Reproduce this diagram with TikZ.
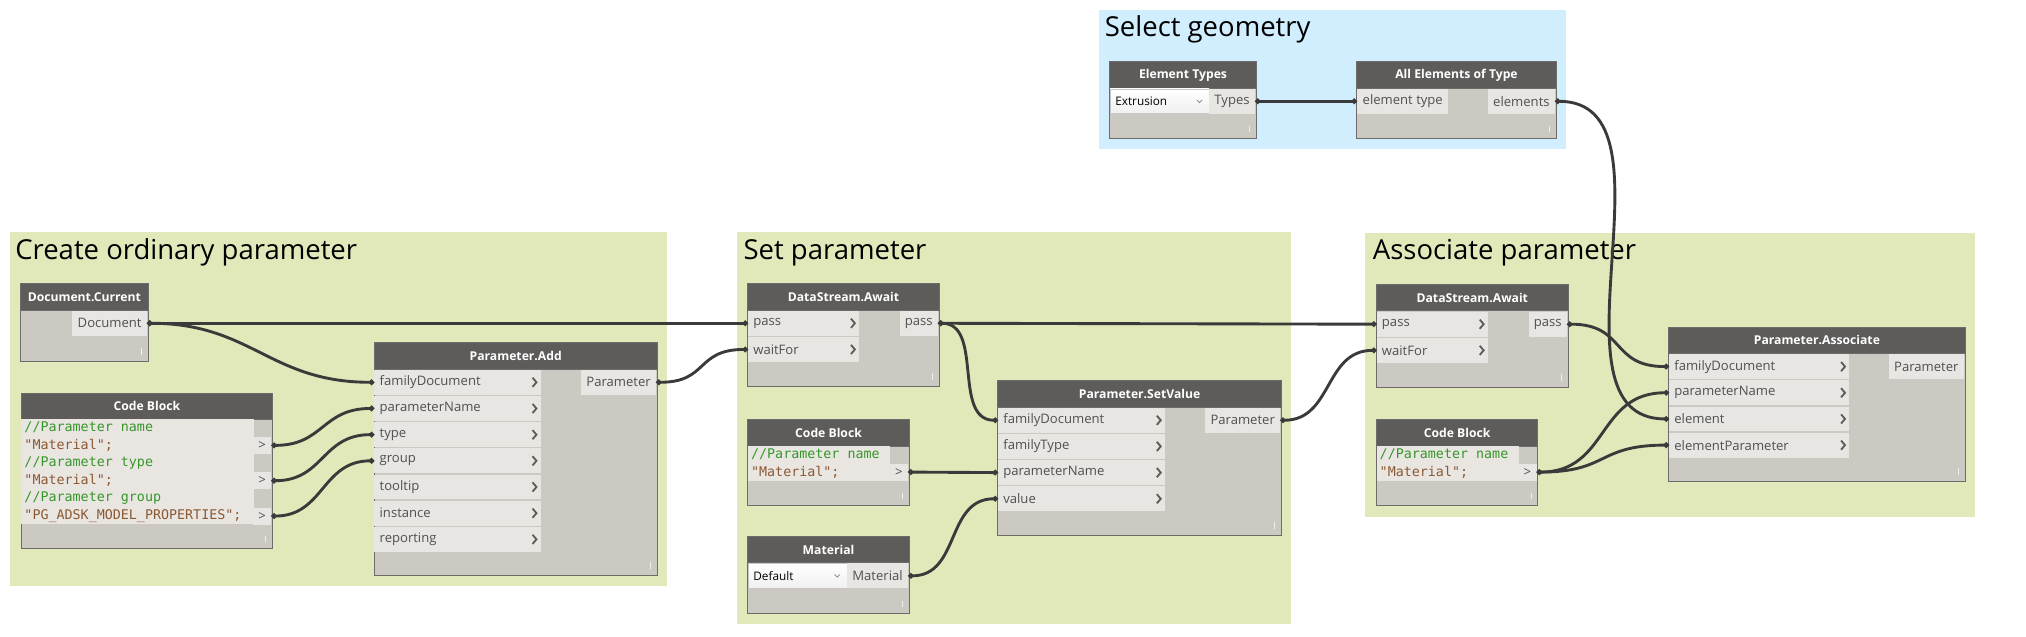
\documentclass[tikz,border=0pt]{standalone}
\usepackage{fontspec}
\setmainfont{Open Sans}
\setmonofont{DejaVu Sans Mono}
\usetikzlibrary{arrows.meta, calc}

\definecolor{grpgreen}{RGB}{225,233,187}
\definecolor{grpblue}{RGB}{208,238,253}
\definecolor{headcol}{RGB}{94,92,90}
\definecolor{bodycol}{RGB}{204,200,194}
\definecolor{portcol}{RGB}{232,230,227}
\definecolor{codebg}{RGB}{233,230,226}
\definecolor{bordercol}{RGB}{110,108,106}
\definecolor{wirecol}{RGB}{58,58,58}
\definecolor{labelcol}{RGB}{80,80,80}
\definecolor{cmtcol}{RGB}{54,150,42}
\definecolor{strcol}{RGB}{140,88,50}

\newcommand{\portfont}{\fontsize{10}{11}\selectfont}

% node with header and resize grip: name, x, y, width, height, title
\newcommand{\dynnode}[6]{%
  \node[nbody, minimum width=#4, minimum height=#5] (#1) at (#2,#3) {};
  \node[nhead, minimum width=#4] (#1-t) at (#1.north west) {#6};
  \draw[grip] ($(#1.south east)+(-5.5,-5.5)$) -- ++(0,-5);
}
% input port with chevron: name, x, y, text width, label
\newcommand{\inport}[5]{%
  \node[inport, text width=#4pt] (#1) at (#2,#3) {#5};
  \draw[chev] ($(#1.east)+(-6.5,-3.5)$) -- ++(3,3.5) -- ++(-3,3.5);
}

\begin{document}
\begin{tikzpicture}[x=1pt, y=-1pt,
    grp/.style={anchor=north west, inner sep=0, draw=none},
    gtitle/.style={anchor=base west, inner sep=0, font=\fontsize{21}{24}\selectfont},
    nbody/.style={draw=bordercol, fill=bodycol, anchor=north west, inner sep=0, line width=0.8pt},
    nhead/.style={draw=bordercol, fill=headcol, anchor=north west, inner sep=0, minimum height=20, text=white, font=\fontsize{9.3}{10}\selectfont\bfseries, line width=0.8pt},
    inport/.style={fill=portcol, anchor=west, inner xsep=4, inner ysep=0, minimum height=19, align=left, text=labelcol, font=\portfont},
    outport/.style={fill=portcol, anchor=east, inner xsep=4, inner ysep=0, minimum height=19, text=labelcol, font=\portfont},
    chev/.style={draw=headcol, line width=1.4pt},
    grip/.style={draw=white!70!bodycol, line width=1pt},
    wire/.style={draw=wirecol, line width=2.2pt, {Circle[length=4pt]}-{Circle[length=4pt]}},
    codeline/.style={anchor=west, inner sep=0, font=\ttfamily\fontsize{10.2}{12}\selectfont},
    codebox/.style={fill=codebg, anchor=north west, inner sep=0},
    cport/.style={fill=portcol, anchor=east, inner sep=0, minimum width=14, minimum height=13, text=labelcol, font=\portfont},
    drop/.style={draw=gray!45, top color=white, bottom color=gray!12, anchor=west, inner xsep=4, inner ysep=0, minimum height=19, align=left, font=\fontsize{9}{10}\selectfont},
    vmark/.style={draw=gray, line width=0.6pt}
]
\fill[white] (0,0) rectangle (1548,486);
\useasboundingbox (0,0) rectangle (1548,486);

% groups
\node[grp, fill=grpblue, minimum width=357, minimum height=106] (g-sel) at (839.4,7.6) {};
\node[gtitle] (g-sel-t) at (844,28) {Select geometry};
\node[grp, fill=grpgreen, minimum width=502.4, minimum height=270.5] (g-add) at (7.1,177) {};
\node[gtitle] (g-add-t) at (11.5,198.5) {Create ordinary parameter};
\node[grp, fill=grpgreen, minimum width=423.7, minimum height=299.3] (g-set) at (562.8,177) {};
\node[gtitle] (g-set-t) at (568,198.5) {Set parameter};
\node[grp, fill=grpgreen, minimum width=466, minimum height=217] (g-ass) at (1043.1,177.8) {};
\node[gtitle] (g-ass-t) at (1048.8,198.5) {Associate parameter};

% select geometry
\dynnode{et}{847.6}{46.9}{111.8}{58.8}{Element Types}
\node[drop, text width=67.6pt] (et-dd) at (848,77.4) {Extrusion};
\draw[vmark] ($(et-dd.east)+(-9.5,-1)$) -- ++(2,2) -- ++(2,-2);
\node[outport] (et-o) at (959,77.4) {Types};

\dynnode{aet}{1036.3}{46.9}{152.3}{58.8}{All Elements of Type}
\node[fill=portcol, anchor=west, inner xsep=3, inner ysep=0, minimum height=19, minimum width=69.8, text=labelcol, font=\portfont] (aet-in) at (1036.7,77.4) {element type};
\node[outport] (aet-o) at (1188.2,77.4) {elements};

% create ordinary parameter
\dynnode{doc}{15.3}{216.5}{97.5}{59.1}{Document.Current}
\node[outport] (doc-o) at (112.4,247) {Document};

\dynnode{cb1}{15.8}{300}{192}{119}{Code Block}
\node[codebox, minimum width=178, minimum height=79.7] (cb1-txt) at (16.2,320.2) {};
\node[codeline, text=cmtcol] (cb1-l1) at (18.5,326.8) {//Parameter name};
\node[codeline, text=strcol] (cb1-l2) at (18.5,340.3) {"Material";};
\node[codeline, text=cmtcol] (cb1-l3) at (18.5,353.8) {//Parameter type};
\node[codeline, text=strcol] (cb1-l4) at (18.5,367.3) {"Material";};
\node[codeline, text=cmtcol] (cb1-l5) at (18.5,380.8) {//Parameter group};
\node[codeline, text=strcol] (cb1-l6) at (18.5,394.3) {"PG\_ADSK\_MODEL\_PROPERTIES";};
\node[cport] (cb1-o1) at (207.4,340.3) {>};
\node[cport] (cb1-o2) at (207.4,367.3) {>};
\node[cport] (cb1-o3) at (207.4,394.3) {>};

\dynnode{pa}{285.5}{261.6}{216.3}{177.7}{Parameter.Add}
\inport{pa-fd}{285.9}{292.1}{119.1}{familyDocument}
\inport{pa-pn}{285.9}{312.1}{119.1}{parameterName}
\inport{pa-ty}{285.9}{332.1}{119.1}{type}
\inport{pa-gr}{285.9}{352.1}{119.1}{group}
\inport{pa-tt}{285.9}{372.1}{119.1}{tooltip}
\inport{pa-in}{285.9}{392.1}{119.1}{instance}
\inport{pa-re}{285.9}{412.1}{119.1}{reporting}
\node[outport] (pa-o) at (501.4,292.1) {Parameter};

% set parameter
\dynnode{da1}{571}{216.5}{146.2}{78.5}{DataStream.Await}
\inport{da1-pa}{571.4}{247}{76.9}{pass}
\inport{da1-wf}{571.4}{267}{76.9}{waitFor}
\node[outport] (da1-o) at (716.8,247) {pass};

\dynnode{cb2}{571}{320.4}{123.3}{65.7}{Code Block}
\node[codebox, minimum width=108.5, minimum height=26.7] (cb2-txt) at (571.4,340.8) {};
\node[codeline, text=cmtcol] (cb2-l1) at (573.7,347.2) {//Parameter name};
\node[codeline, text=strcol] (cb2-l2) at (573.7,360.7) {"Material";};
\node[cport] (cb2-o) at (693.9,360.7) {>};

\dynnode{mat}{571}{409.5}{123.3}{59.1}{Material}
\node[drop, text width=67.4pt] (mat-dd) at (571.4,440) {Default};
\draw[vmark] ($(mat-dd.east)+(-9.5,-1)$) -- ++(2,2) -- ++(2,-2);
\node[outport] (mat-o) at (693.9,440) {Material};

\dynnode{sv}{762}{290.6}{216.7}{118.2}{Parameter.SetValue}
\inport{sv-fd}{762.4}{321.1}{119.6}{familyDocument}
\inport{sv-ft}{762.4}{341.1}{119.6}{familyType}
\inport{sv-pn}{762.4}{361.1}{119.6}{parameterName}
\inport{sv-va}{762.4}{381.1}{119.6}{value}
\node[outport] (sv-o) at (978.3,321.1) {Parameter};

% associate parameter
\dynnode{da2}{1051.3}{217.2}{146.5}{78.5}{DataStream.Await}
\inport{da2-pa}{1051.7}{247.7}{77}{pass}
\inport{da2-wf}{1051.7}{267.7}{77}{waitFor}
\node[outport] (da2-o) at (1197.4,247.7) {pass};

\dynnode{cb3}{1051.3}{320.4}{123.3}{65.7}{Code Block}
\node[codebox, minimum width=108.7, minimum height=26.7] (cb3-txt) at (1051.7,340.8) {};
\node[codeline, text=cmtcol] (cb3-l1) at (1054,347.2) {//Parameter name};
\node[codeline, text=strcol] (cb3-l2) at (1054,360.7) {"Material";};
\node[cport] (cb3-o) at (1174.2,360.7) {>};

\dynnode{as}{1274.7}{249.6}{226.3}{117.9}{Parameter.Associate}
\inport{as-fd}{1275.1}{280.1}{129.7}{familyDocument}
\inport{as-pn}{1275.1}{300.1}{129.7}{parameterName}
\inport{as-el}{1275.1}{320.1}{129.7}{element}
\inport{as-ep}{1275.1}{340.1}{129.7}{elementParameter}
\node[outport] (as-o) at (1500.6,280.1) {Parameter};

% wires
\draw[wire] (et-o.east) -- (aet-in.west);
\draw[wire] (aet-o.east) .. controls +(100,0) and +(-100,0) .. (as-el.west);
\draw[wire] (doc-o.east) .. controls +(80,0) and +(-80,0) .. (pa-fd.west);
\draw[wire] (doc-o.east) -- (da1-pa.west);
\draw[wire] (cb1-o1.east) .. controls +(40,0) and +(-40,0) .. (pa-pn.west);
\draw[wire] (cb1-o2.east) .. controls +(40,0) and +(-40,0) .. (pa-ty.west);
\draw[wire] (cb1-o3.east) .. controls +(40,0) and +(-40,0) .. (pa-gr.west);
\draw[wire] (pa-o.east) .. controls +(40,0) and +(-40,0) .. (da1-wf.west);
\draw[wire] (da1-o.east) .. controls +(35,0) and +(-35,0) .. (sv-fd.west);
\draw[wire] (da1-o.east) -- (da2-pa.west);
\draw[wire] (cb2-o.east) -- (sv-pn.west);
\draw[wire] (mat-o.east) .. controls +(40,0) and +(-40,0) .. (sv-va.west);
\draw[wire] (sv-o.east) .. controls +(40,0) and +(-40,0) .. (da2-wf.west);
\draw[wire] (da2-o.east) .. controls +(45,0) and +(-45,0) .. (as-fd.west);
\draw[wire] (cb3-o.east) .. controls +(55,0) and +(-55,0) .. (as-pn.west);
\draw[wire] (cb3-o.east) .. controls +(55,0) and +(-55,0) .. (as-ep.west);
\end{tikzpicture}
\end{document}
